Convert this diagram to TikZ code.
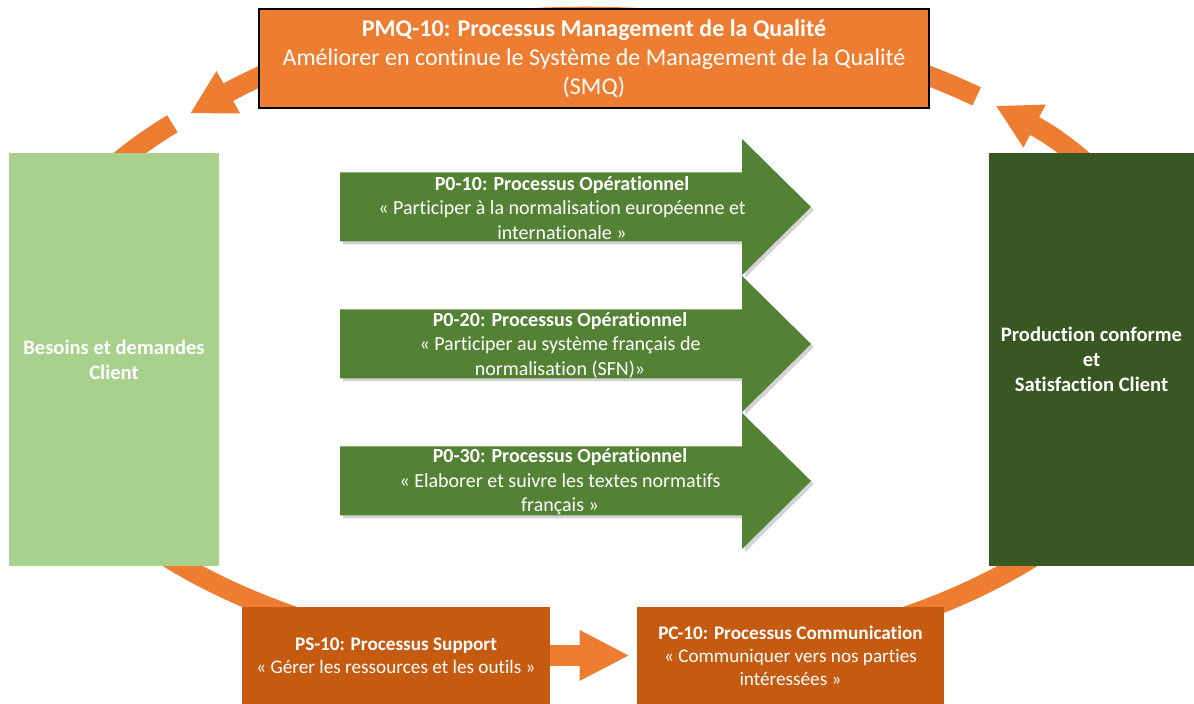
\documentclass[tikz,border=0pt]{standalone}
\usepackage{fontspec}
\setmainfont{Carlito}[RawFeature=-liga]
\usetikzlibrary{arrows.meta,calc,shadows}
\definecolor{orangeq}{HTML}{ED7D31}
\definecolor{orangesup}{HTML}{C55A11}
\definecolor{greenlight}{HTML}{A9D18E}
\definecolor{greenop}{HTML}{548235}
\definecolor{greendark}{HTML}{385723}
\begin{document}
\begin{tikzpicture}[x=0.5pt,y=0.5pt,
    ring/.style ={draw=orangeq, line width=10pt},
    ringtip/.style ={-{Triangle[length=22pt,width=22.5pt]}},
    opshape/.style ={fill=greenop, drop shadow={shadow xshift=1.5pt,shadow yshift=-1.5pt,opacity=0.35}},
    optext/.style ={text=white, align=center, font=\fontsize{10}{12.25}\selectfont},
    sidebox/.style ={text=white, align=center, font=\bfseries\fontsize{10.3}{12.5}\selectfont, minimum height=206.5pt},
    procbox/.style ={fill=orangesup, text=white, align=center, font=\fontsize{9.6}{11.5}\selectfont, minimum height=48.5pt}]
   \useasboundingbox (0,0) rectangle (1194,704);
   \coordinate (c) at (600,362);
   % the quality loop
   \draw[ring, ringtip] ($(c)+(-75:580 and 323)$) arc[start angle=-75, end angle=47, x radius=580, y radius=323];
   \draw[ring, ringtip] ($(c)+(49.5:580 and 323)$) arc[start angle=49.5, end angle=135, x radius=580, y radius=323];
   \draw[ring] ($(c)+(137.5:580 and 323)$) arc[start angle=137.5, end angle=255, x radius=580, y radius=323];
   % operational processes
   \foreach \y in {497,360,223}
     \fill[opshape] (340,\y-34.5) -- (742,\y-34.5) -- (742,\y-68) -- (811,\y) -- (742,\y+68) -- (742,\y+34.5) -- (340,\y+34.5) -- cycle;
   \node[optext] (op1) at (562,496) {\textbf{P0-10: Processus Opérationnel}\\« Participer à la normalisation européenne et\\internationale »};
   \node[optext] (op2) at (560,359) {\textbf{P0-20: Processus Opérationnel}\\« Participer au système français de\\normalisation (SFN)»};
   \node[optext] (op3) at (560,222) {\textbf{P0-30: Processus Opérationnel}\\« Elaborer et suivre les textes normatifs\\français »};
   % boxes
   \node[draw=black, line width=1pt, fill=orangeq, text=white, align=center, font=\fontsize{12}{14.5}\selectfont, minimum width=335pt, minimum height=49.5pt] (pmq) at (594,645.5) {\textbf{PMQ-10: Processus Management de la Qualité}\\Améliorer en continue le Système de Management de la Qualité\\(SMQ)};
   \node[sidebox, fill=greenlight, minimum width=105pt] (client) at (114,344.5) {Besoins et demandes\\Client};
   \node[sidebox, fill=greendark, minimum width=102.5pt] (prod) at (1091.5,344.5) {Production conforme\\et\\Satisfaction Client};
   \node[procbox, minimum width=154pt] (ps) at (396,48.5) {\textbf{PS-10: Processus Support}\\« Gérer les ressources et les outils »};
   \node[procbox, minimum width=153.5pt] (pc) at (790.5,48.5) {\textbf{PC-10: Processus Communication}\\« Communiquer vers nos parties\\intéressées »};
   \draw[draw=orangeq, line width=10.5pt, -{Triangle[length=25pt,width=23.5pt]}] (ps.east) -- ([xshift=-3.5pt]pc.west);
\end{tikzpicture}
\end{document}
